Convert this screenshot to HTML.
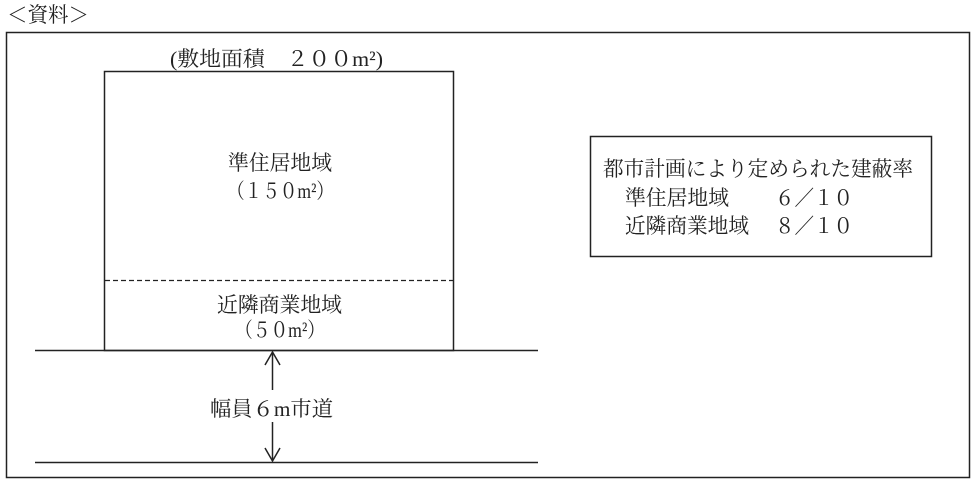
<!DOCTYPE html>
<html><head><meta charset="utf-8"><style>
html,body{margin:0;padding:0;background:#fff;}
svg{display:block;}
text{font-family:"Liberation Serif","Noto Serif CJK JP","Noto Serif CJK SC",serif;font-size:21px;fill:#222;}
</style></head><body>
<svg width="977" height="485" viewBox="0 0 977 485" xmlns="http://www.w3.org/2000/svg">
<text x="7" y="22" textLength="82" lengthAdjust="spacingAndGlyphs">＜資料＞</text>
<rect x="6.5" y="32.5" width="963" height="445" fill="none" stroke="#222" stroke-width="1.5"/>
<text x="170" y="66" textLength="213" lengthAdjust="spacingAndGlyphs">(敷地面積　２００<tspan>m</tspan>²)</text>
<rect x="104.5" y="71.5" width="349" height="279" fill="none" stroke="#222" stroke-width="1.5"/>
<line x1="105" y1="280.5" x2="453" y2="280.5" stroke="#222" stroke-width="1.2" stroke-dasharray="5,3"/>
<text x="228" y="170" textLength="104" lengthAdjust="spacingAndGlyphs">準住居地域</text>
<text x="227" y="198" textLength="107" lengthAdjust="spacingAndGlyphs">（１５０<tspan>m</tspan>²）</text>
<text x="217" y="312" textLength="125" lengthAdjust="spacingAndGlyphs">近隣商業地域</text>
<text x="235" y="337" textLength="90" lengthAdjust="spacingAndGlyphs">（５０<tspan>m</tspan>²）</text>
<line x1="35" y1="350.5" x2="538" y2="350.5" stroke="#222" stroke-width="1.5"/>
<line x1="35" y1="462.5" x2="538" y2="462.5" stroke="#222" stroke-width="1.5"/>
<line x1="272.5" y1="352" x2="272.5" y2="390" stroke="#222" stroke-width="1.5"/>
<line x1="272.5" y1="422" x2="272.5" y2="461" stroke="#222" stroke-width="1.5"/>
<polyline points="265,365 272.5,352 280,365" fill="none" stroke="#222" stroke-width="1.5"/>
<polyline points="265,448 272.5,461 280,448" fill="none" stroke="#222" stroke-width="1.5"/>
<text x="210" y="416" textLength="123" lengthAdjust="spacingAndGlyphs">幅員６m市道</text>
<rect x="590.5" y="136.5" width="341" height="120" fill="none" stroke="#222" stroke-width="1.5"/>
<text x="603" y="176" textLength="310" lengthAdjust="spacingAndGlyphs">都市計画により定められた建蔽率</text>
<text x="625" y="205" textLength="104" lengthAdjust="spacingAndGlyphs">準住居地域</text>
<text x="775" y="205" textLength="78" lengthAdjust="spacingAndGlyphs">６／１０</text>
<text x="625" y="233" textLength="124" lengthAdjust="spacingAndGlyphs">近隣商業地域</text>
<text x="775" y="233" textLength="78" lengthAdjust="spacingAndGlyphs">８／１０</text>
</svg>
</body></html>
